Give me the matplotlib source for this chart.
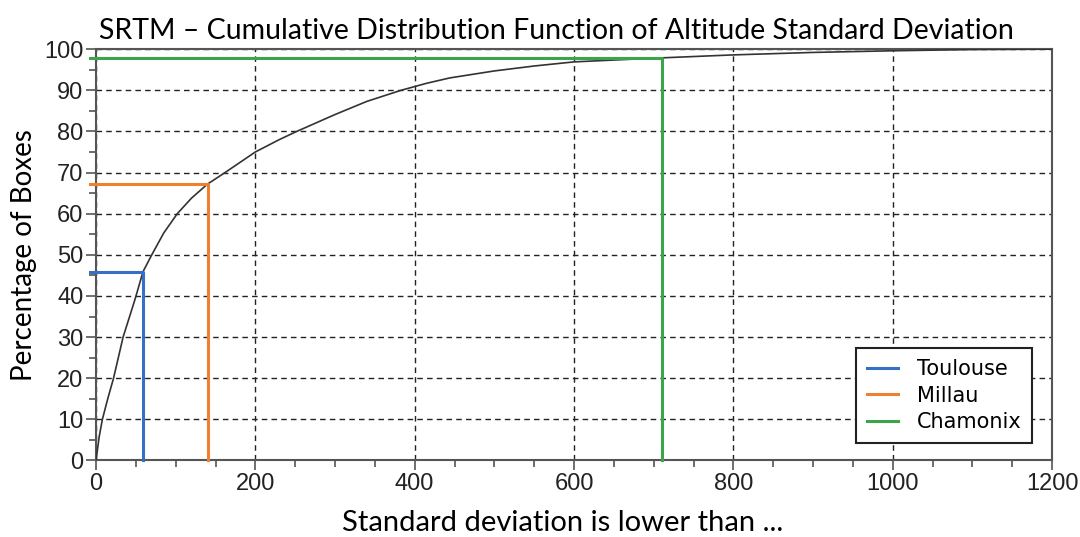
import numpy as np
import matplotlib.pyplot as plt
from matplotlib.ticker import MultipleLocator

# CDF of altitude standard deviation
std_dev = [0, 4, 8, 15, 22, 34, 49, 59, 70, 85, 102, 120, 140, 162, 200, 230, 252, 300,
           340, 383, 415, 444, 500, 550, 600, 700, 800, 900, 1000, 1100, 1200]
pct_boxes = [0, 5.8, 10, 15.2, 20, 30, 39.2, 45.9, 50, 55.3, 60, 63.8, 67.2, 70, 75, 78, 80, 84.1,
             87.3, 90, 91.7, 93, 94.7, 95.9, 96.9, 97.8, 98.6, 99.2, 99.6, 99.9, 100]

# marked sites: std dev threshold and percentage of boxes
sites = ["Toulouse", "Millau", "Chamonix"]
site_std = [59.4, 140, 710.5]
site_pct = [45.9, 67.2, 97.8]
site_colors = ["#3570c8", "#ee8030", "#3ca54a"]

narrow = ["Liberation Sans Narrow", "Liberation Sans", "DejaVu Sans"]
label_font = ["Lato", "Open Sans", "DejaVu Sans"]

fig = plt.figure(figsize=(10.8, 5.37), dpi=100)
ax = fig.add_axes([0.0889, 0.1425, 0.8852, 0.766])

ax.plot(std_dev, pct_boxes, color="#333333", lw=1.2, zorder=3)

for name, sx, sy, c in zip(sites, site_std, site_pct, site_colors):
    ax.plot([-7, sx, sx], [sy, sy, 0], color=c, lw=2.2, label=name,
            clip_on=False, zorder=4)

ax.set_xlim(0, 1200)
ax.set_ylim(0, 100)
ax.xaxis.set_major_locator(MultipleLocator(200))
ax.xaxis.set_minor_locator(MultipleLocator(50))
ax.yaxis.set_major_locator(MultipleLocator(10))
ax.yaxis.set_minor_locator(MultipleLocator(5))

ax.grid(True, which="major", color="#222222", ls=(0, (4, 3)), lw=1.0)
for s in ax.spines.values():
    s.set_color("#555555")
    s.set_linewidth(1.5)
ax.tick_params(which="major", direction="out", length=7, width=1.2,
               color="#555555", labelsize=17, pad=2)
ax.tick_params(which="minor", direction="out", length=5, width=1.2, color="#555555")
for lab in ax.get_xticklabels() + ax.get_yticklabels():
    lab.set_family(narrow)
    lab.set_color("#222222")

ax.set_title("SRTM – Cumulative Distribution Function of Altitude Standard Deviation",
             family=label_font, fontsize=20.5, pad=7, x=0.482)
ax.set_xlabel("Standard deviation is lower than ...", family=label_font, fontsize=21)
ax.xaxis.set_label_coords(0.488, -0.12)
ax.set_ylabel("Percentage of Boxes", family=label_font, fontsize=20, labelpad=5)

leg = ax.legend(loc="lower right", bbox_to_anchor=(0.99, 0.018), fancybox=False,
                framealpha=1, edgecolor="#222222", prop={"family": "DejaVu Sans", "size": 15},
                handlelength=1.5, labelspacing=0.32, borderpad=0.5, handletextpad=0.9)
leg.get_frame().set_linewidth(1.5)

fig.savefig("out.png", dpi=100)
